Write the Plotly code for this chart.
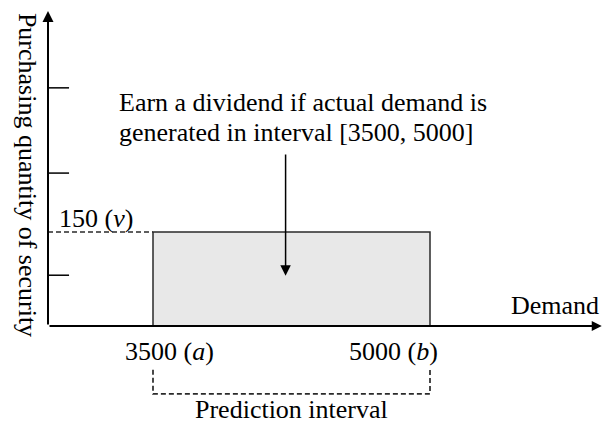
import plotly.graph_objects as go

# --- values shown in the diagram ---
interval_low = 3500          # a
interval_high = 5000         # b
purchase_qty = 150           # v
y_tick_vals = [81, 244, 380]  # unlabeled marks on the quantity axis

low_label = "3500 (<i>a</i>)"
high_label = "5000 (<i>b</i>)"
qty_label = "150 (<i>v</i>)"
note_lines = ["Earn a dividend if actual demand is",
              "generated in interval [3500, 5000]"]
x_title = "Demand"
y_title = "Purchasing quantity of security"
bracket_title = "Prediction interval"

# --- drawing frame (data units) ---
X_RANGE = [2671.5, 5931.4]
Y_RANGE = [-166.0, 520.2]
x_origin = 2931.4
x_end = 5930.0
y_top = 502.5
tick_len = 114.0
bracket_top = -70.0
bracket_bottom = -108.5

FONT = "Liberation Serif, Times New Roman, serif"
INK = "#000000"
EDGE = "#2a2a2a"
FS = 26

fig = go.Figure()

# shaded dividend region
fig.add_trace(go.Bar(
    x=[(interval_low + interval_high) / 2], y=[purchase_qty],
    width=[interval_high - interval_low], base=0,
    marker=dict(color="#e8e8e8", line=dict(color=EDGE, width=1.5)),
    hoverinfo="skip", showlegend=False,
))

# dashed guide from the quantity axis to the region
fig.add_trace(go.Scatter(
    x=[x_origin, interval_low], y=[purchase_qty, purchase_qty],
    mode="lines", line=dict(color=EDGE, width=1.7, dash="5px,3px"),
    hoverinfo="skip", showlegend=False,
))

# tick marks on the quantity axis
tx, ty = [], []
for v in y_tick_vals:
    tx += [x_origin, x_origin + tick_len, None]
    ty += [v, v, None]
fig.add_trace(go.Scatter(
    x=tx, y=ty, mode="lines", line=dict(color=INK, width=1.5),
    hoverinfo="skip", showlegend=False,
))

# bracket marking the prediction interval
fig.add_trace(go.Scatter(
    x=[interval_low, interval_low, interval_high, interval_high],
    y=[bracket_top, bracket_bottom, bracket_bottom, bracket_top],
    mode="lines", line=dict(color=EDGE, width=1.7, dash="5px,3px"),
    hoverinfo="skip", showlegend=False,
))

def arrow(x0, y0, x1, y1, width, size):
    return dict(x=x1, y=y1, ax=x0, ay=y0, xref="x", yref="y",
                axref="x", ayref="y", text="", showarrow=True,
                arrowhead=2, arrowsize=size, arrowwidth=width,
                arrowcolor=INK, standoff=0, startstandoff=0)

def label(text, x, y, xanchor="center", **kw):
    d = dict(text=text, x=x, y=y, xref="x", yref="y", showarrow=False,
             xanchor=xanchor, yanchor="middle",
             font=dict(family=FONT, size=FS, color=INK))
    d.update(kw)
    return d

mid_x = 4218
annotations = [
    # axes with arrowheads
    arrow(x_origin, 0, x_end, 0, 2, 1.0),
    arrow(x_origin, 0, x_origin, y_top, 2, 1.1),
    # pointer into the region
    arrow(mid_x, 276, mid_x, 80, 1.5, 1.4),
    label(note_lines[0], 3305, 357, xanchor="left"),
    label(note_lines[1], 3305, 308, xanchor="left"),
    label(qty_label, 2980, 172, xanchor="left"),
    label(x_title, 5430, 32, xanchor="left"),
    label(low_label, 3587, -41.5),
    label(high_label, 4805, -41.5),
    label(bracket_title, (interval_low + interval_high) / 2, -134),
    dict(text=y_title, x=0.046, y=0.594, xref="paper", yref="paper",
         showarrow=False, textangle=90, xanchor="center", yanchor="middle",
         font=dict(family=FONT, size=FS, color=INK)),
]

fig.update_layout(
    width=602, height=430,
    margin=dict(l=0, r=0, t=0, b=0),
    paper_bgcolor="white", plot_bgcolor="white",
    xaxis=dict(range=X_RANGE, visible=False, fixedrange=True),
    yaxis=dict(range=Y_RANGE, visible=False, fixedrange=True),
    annotations=annotations,
    showlegend=False,
)

fig.write_html("out.html")
